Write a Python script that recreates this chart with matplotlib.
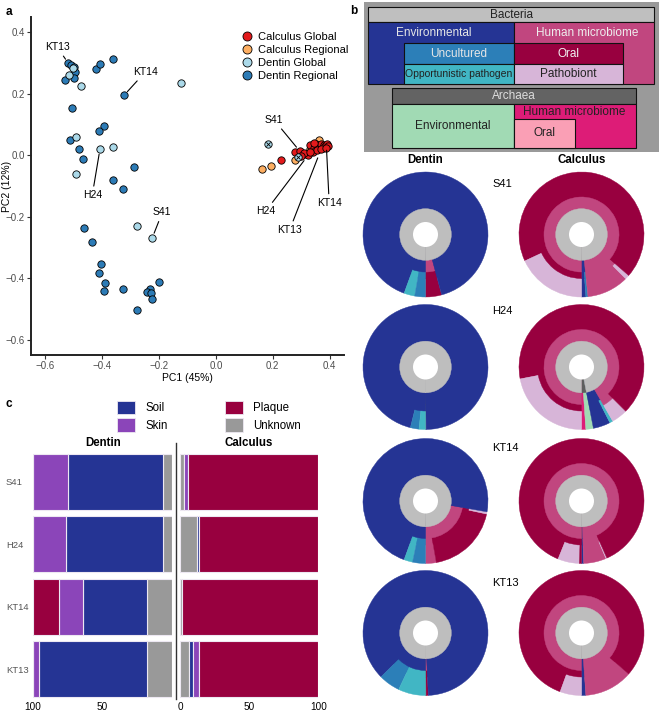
import matplotlib
matplotlib.use('Agg')
import matplotlib.pyplot as plt
from matplotlib.patches import Rectangle, Patch, Circle
from matplotlib.lines import Line2D

plt.rcParams['font.family'] = ['Liberation Sans', 'DejaVu Sans']

# ---- panel a: PCA ----
dentin_regional_x = [-0.518, -0.510, -0.498, -0.493, -0.528, -0.498, -0.422, -0.407, -0.361, -0.322,
                     -0.505, -0.394, -0.410, -0.512, -0.479, -0.466, -0.288, -0.361, -0.326, -0.463,
                     -0.434, -0.403, -0.409, -0.390, -0.391, -0.325, -0.200, -0.231, -0.243, -0.227,
                     -0.225, -0.277]
dentin_regional_y = [0.299, 0.292, 0.286, 0.270, 0.245, 0.251, 0.281, 0.295, 0.311, 0.195,
                     0.154, 0.096, 0.078, 0.049, 0.021, -0.012, -0.039, -0.081, -0.111, -0.235,
                     -0.281, -0.354, -0.382, -0.414, -0.440, -0.436, -0.411, -0.436, -0.445, -0.449,
                     -0.468, -0.503]
dentin_global_x = [-0.503, -0.514, -0.473, -0.124, -0.491, -0.407, -0.362, -0.491, -0.277, -0.223]
dentin_global_y = [0.283, 0.260, 0.224, 0.235, 0.058, 0.019, 0.027, -0.062, -0.230, -0.268]
dentin_global_flag_x = [0.183, 0.287]
dentin_global_flag_y = [0.035, -0.006]
calculus_regional_x = [0.162, 0.194, 0.279, 0.300, 0.315, 0.330, 0.350, 0.361, 0.370, 0.385]
calculus_regional_y = [-0.046, -0.036, -0.014, 0.000, 0.005, 0.020, 0.030, 0.051, 0.030, 0.028]
calculus_global_x = [0.230, 0.279, 0.294, 0.322, 0.310, 0.332, 0.345, 0.350, 0.360, 0.365, 0.370,
                     0.375, 0.380, 0.385, 0.390, 0.395, 0.340, 0.355, 0.300, 0.330, 0.345, 0.370, 0.388]
calculus_global_y = [-0.017, 0.011, 0.014, 0.000, 0.008, 0.032, 0.025, 0.035, 0.020, 0.030, 0.038,
                     0.025, 0.033, 0.030, 0.035, 0.030, 0.012, 0.018, -0.002, 0.010, 0.040, 0.020, 0.025]

# label, point, text position
pca_labels = [
    ('KT13', (-0.518, 0.299), (-0.557, 0.351)),
    ('KT14', (-0.322, 0.195), (-0.248, 0.270)),
    ('H24', (-0.407, 0.019), (-0.434, -0.130)),
    ('S41', (-0.223, -0.268), (-0.188, -0.186)),
    ('S41', (0.294, 0.014), (0.205, 0.114)),
    ('H24', (0.320, -0.005), (0.175, -0.182)),
    ('KT13', (0.364, 0.006), (0.259, -0.243)),
    ('KT14', (0.388, 0.032), (0.398, -0.155)),
]

# ---- panel b: sunbursts (degrees, kingdom, level2, level3, level4), counter-clockwise from bottom ----
dentin_s41 = [(1, 'Archaea', 'Hum', 'Oral', 'Oral'), (14, 'Bacteria', 'Hum', 'Oral', 'Oral'),
              (325, 'Bacteria', 'Env', 'Env', 'Env'), (10, 'Bacteria', 'Env', 'Opp', 'Opp'),
              (10, 'Bacteria', 'Env', 'Unc', 'Unc')]
calculus_s41 = [(1, 'Archaea', 'Env', 'Env', 'Env'), (3, 'Bacteria', 'Env', 'Env', 'Env'),
                (2, 'Bacteria', 'Env', 'Unc', 'Unc'), (39, 'Bacteria', 'Hum', 'Hum', 'Hum'),
                (4, 'Bacteria', 'Hum', 'Hum', 'Patho'), (246, 'Bacteria', 'Hum', 'Oral', 'Oral'),
                (65, 'Bacteria', 'Hum', 'Oral', 'Patho')]
dentin_h24 = [(0.6, 'Archaea', 'Archaea', 'Archaea', 'Archaea'), (345.4, 'Bacteria', 'Env', 'Env', 'Env'),
              (8, 'Bacteria', 'Env', 'Env', 'Unc'), (6, 'Bacteria', 'Env', 'Env', 'Opp')]
calculus_h24 = [(4, 'Archaea', 'AHum', 'AHum', 'AHum'), (7, 'Archaea', 'AEnv', 'AEnv', 'AEnv'),
                (16, 'Bacteria', 'Env', 'Env', 'Env'), (3, 'Bacteria', 'Env', 'Opp', 'Opp'),
                (15, 'Bacteria', 'Hum', 'Hum', 'Patho'), (236, 'Bacteria', 'Hum', 'Oral', 'Oral'),
                (79, 'Bacteria', 'Hum', 'Oral', 'Patho')]
dentin_kt14 = [(1, 'Archaea', 'Hum', 'Hum', 'Hum'), (9, 'Bacteria', 'Hum', 'Hum', 'Hum'),
               (68, 'Bacteria', 'Hum', 'Oral', 'Oral'), (2, 'Bacteria', 'Hum', 'Oral', 'Patho'),
               (260, 'Bacteria', 'Env', 'Env', 'Env'), (8, 'Bacteria', 'Env', 'Opp', 'Opp'),
               (12, 'Bacteria', 'Env', 'Unc', 'Unc')]
calculus_kt14 = [(1, 'Archaea', 'Archaea', 'Env', 'Env'), (1, 'Bacteria', 'Env', 'Env', 'Env'),
                 (21, 'Bacteria', 'Hum', 'Hum', 'Hum'), (1, 'Bacteria', 'Hum', 'Hum', 'Patho'),
                 (314, 'Bacteria', 'Hum', 'Oral', 'Oral'), (20, 'Bacteria', 'Hum', 'Oral', 'Patho'),
                 (2, 'Bacteria', 'Hum', 'Oral', 'Oral')]
dentin_kt13 = [(0.6, 'Archaea', 'Archaea', 'Archaea', 'Archaea'), (2, 'Bacteria', 'Hum', 'Oral', 'Oral'),
               (312, 'Bacteria', 'Env', 'Env', 'Env'), (20, 'Bacteria', 'Env', 'Unc', 'Unc'),
               (25.4, 'Bacteria', 'Env', 'Opp', 'Opp')]
calculus_kt13 = [(1, 'Archaea', 'Env', 'Env', 'Env'), (3, 'Bacteria', 'Env', 'Env', 'Env'),
                 (45, 'Bacteria', 'Hum', 'Hum', 'Hum'), (291, 'Bacteria', 'Hum', 'Oral', 'Oral'),
                 (20, 'Bacteria', 'Hum', 'Oral', 'Patho')]

samples = ['S41', 'H24', 'KT14', 'KT13']
dentin_donuts = [dentin_s41, dentin_h24, dentin_kt14, dentin_kt13]
calculus_donuts = [calculus_s41, calculus_h24, calculus_kt14, calculus_kt13]

tax_colors = {'Bacteria': '#bebebe', 'Archaea': '#5e5e5e', 'Env': '#253494', 'Hum': '#c1467f',
              'Unc': '#2c7fb8', 'Opp': '#41b6c4', 'Oral': '#98003f', 'Patho': '#d7b5d8',
              'AEnv': '#a1dab4', 'AHum': '#dd1c77', 'AOral': '#fa9fb5'}

# ---- panel c: source proportions ----
sources = ['Unknown', 'Soil', 'Skin', 'Plaque']
source_colors = {'Soil': '#253494', 'Skin': '#8b45b9', 'Plaque': '#98003f', 'Unknown': '#999999'}
dentin_unknown = [6.5, 6.5, 18.0, 18.0]
dentin_soil = [67.8, 69.8, 46.0, 77.2]
dentin_skin = [25.7, 23.7, 16.8, 4.8]
dentin_plaque = [0.0, 0.0, 19.2, 0.0]
calculus_unknown = [2.9, 12.5, 1.2, 6.3]
calculus_soil = [0.0, 1.2, 0.0, 3.4]
calculus_skin = [2.7, 0.0, 0.0, 4.1]
calculus_plaque = [94.4, 86.3, 98.8, 86.2]

W, H = 660, 711
fig = plt.figure(figsize=(W / 100, H / 100), dpi=100)


def px_axes(x0, y0, x1, y1):
    return fig.add_axes([x0 / W, 1 - y1 / H, (x1 - x0) / W, (y1 - y0) / H])


def fig_text(x, y, s, **kw):
    fig.text(x / W, 1 - y / H, s, **kw)


# ================= a =================
ax = px_axes(31, 17, 344, 355)
pt = dict(s=28, edgecolors='black', linewidths=0.6, zorder=3)
ax.scatter(dentin_regional_x, dentin_regional_y, c='#2c7bb6', **pt)
ax.scatter(dentin_global_x, dentin_global_y, c='#abd9e9', **pt)
ax.scatter(calculus_regional_x, calculus_regional_y, c='#fdae61', **pt)
ax.scatter(calculus_global_x, calculus_global_y, c='#e31a1c', **pt)
ax.scatter(dentin_global_flag_x, dentin_global_flag_y, c='#abd9e9', **pt)
ax.scatter(dentin_global_flag_x, dentin_global_flag_y, marker='x', s=9, c='black', linewidths=0.6, zorder=4)

for name, xy, txt in pca_labels:
    ax.annotate(name, xy=xy, xytext=txt, ha='center', va='center', fontsize=7.5,
                arrowprops=dict(arrowstyle='-', color='black', lw=0.8, shrinkA=1, shrinkB=3.5), zorder=5)

ax.set_xlim(-0.649, 0.45)
ax.set_ylim(-0.649, 0.449)
ax.set_xticks([-0.6, -0.4, -0.2, 0.0, 0.2, 0.4], ['−0.6', '−0.4', '−0.2', '0.0', '0.2', '0.4'])
ax.set_yticks([-0.6, -0.4, -0.2, 0.0, 0.2, 0.4], ['−0.6', '−0.4', '−0.2', '0.0', '0.2', '0.4'])
ax.tick_params(labelsize=7, labelcolor='#4d4d4d', length=3, width=0.8, color='#333333', pad=1.5)
for side in ['top', 'right']:
    ax.spines[side].set_visible(False)
for side in ['left', 'bottom']:
    ax.spines[side].set_linewidth(1.4)
    ax.spines[side].set_color('#222222')
ax.set_xlabel('PC1 (45%)', fontsize=7.5, labelpad=1)
ax.set_ylabel('PC2 (12%)', fontsize=7.5)
ax.yaxis.set_label_coords((12.5 - 31) / 313, 0.5)

leg_handles = [Line2D([], [], ls='', marker='o', ms=6.5, mfc=c, mec='black', mew=0.6)
               for c in ['#e31a1c', '#fdae61', '#abd9e9', '#2c7bb6']]
ax.legend(leg_handles, ['Calculus Global', 'Calculus Regional', 'Dentin Global', 'Dentin Regional'],
          loc='upper left', bbox_to_anchor=(236 / W, 1 - 26.5 / H), bbox_transform=fig.transFigure,
          frameon=False, fontsize=8, handlelength=1, handletextpad=0.45, labelspacing=0.27, borderpad=0)

# ================= b: key =================
axb = px_axes(364, 2, 659, 152)
axb.set_xlim(0, 295)
axb.set_ylim(150, 0)
axb.axis('off')
key_boxes = [
    # x0, y0, x1, y1, colour, label, text colour, font size, text position
    (0, 0, 295, 150, '#9a9a9a', None, None, 0, None),
    (4.3, 5.3, 290, 19.7, '#bfbfbf', 'Bacteria', '#222222', 8.5, None),
    (4.3, 19.7, 150, 82.3, '#253494', 'Environmental', '#e6e6e6', 8.5, (69.3, 31.3)),
    (150, 19.7, 290, 82.3, '#c1467f', 'Human microbiome', '#eeeeee', 8.5, (223.3, 31.3)),
    (40, 41.3, 150, 62.3, '#2c7fb8', 'Uncultured', '#e6e6e6', 8.5, None),
    (40, 62.3, 150, 82.3, '#41b6c4', 'Opportunistic pathogen', '#222222', 7.5, None),
    (150, 41.3, 259.3, 62.3, '#98003f', 'Oral', '#f2f2f2', 8.5, None),
    (150, 62.3, 259.3, 82.3, '#d7b5d8', 'Pathobiont', '#222222', 8.5, None),
    (27.7, 86.3, 272, 102, '#636363', 'Archaea', '#dddddd', 8.5, None),
    (27.7, 102, 150, 145.7, '#a1dab4', 'Environmental', '#222222', 8.5, None),
    (150, 102, 272, 145.7, '#dd1c77', 'Human microbiome', '#222222', 8.5, (210.3, 110.3)),
    (150, 117, 211, 145.7, '#fa9fb5', 'Oral', '#222222', 8.5, None),
]
for x0, y0, x1, y1, col, lab, tcol, fs, tpos in key_boxes:
    lw = 0 if lab is None else 0.8
    axb.add_patch(Rectangle((x0, y0), x1 - x0, y1 - y0, facecolor=col, edgecolor='#111111', lw=lw))
    if lab is not None:
        tx, ty = tpos if tpos else ((x0 + x1) / 2, (y0 + y1) / 2)
        axb.text(tx, ty, lab, ha='center', va='center', fontsize=fs, color=tcol)

# ================= b: sunbursts =================
ring_outer = [0.413, 0.6, 0.704, 1.0]   # kingdom, level2, level3, level4
hole = 0.2
col_x = [425.5, 581.5]
row_y = [234.5, 367, 501, 633]
for ci, donuts in enumerate([dentin_donuts, calculus_donuts]):
    for ri, leaves in enumerate(donuts):
        cx, cy = col_x[ci], row_y[ri]
        axd = px_axes(cx - 63, cy - 63, cx + 63, cy + 63)
        # outermost level first, each one a full pie so rings have no seams between them
        for lev in [3, 2, 1, 0]:
            sizes, cols = [], []
            for leaf in leaves:
                c = tax_colors[leaf[lev + 1]]
                if cols and cols[-1] == c:
                    sizes[-1] += leaf[0]
                else:
                    sizes.append(leaf[0])
                    cols.append(c)
            wedges, _ = axd.pie(sizes, colors=cols, radius=ring_outer[lev], startangle=270,
                                counterclock=True, normalize=True, wedgeprops=dict(linewidth=0.3))
            for w in wedges:
                w.set_edgecolor(w.get_facecolor())
        axd.add_patch(Circle((0, 0), hole, facecolor='white', edgecolor='none', zorder=5))
        axd.set_xlim(-1.008, 1.008)
        axd.set_ylim(-1.008, 1.008)
        axd.set_aspect('equal')
        axd.axis('off')

fig_text(425.5, 160, 'Dentin', ha='center', va='center', fontsize=8.3, fontweight='bold')
fig_text(581.5, 160, 'Calculus', ha='center', va='center', fontsize=8.3, fontweight='bold')
for name, y in zip(samples, [184, 311, 447.7, 582.7]):
    fig_text(492.3, y, name, ha='left', va='center', fontsize=8)

# ================= c =================
axL = px_axes(32.7, 450.5, 171.7, 700.5)
axR = px_axes(180, 450.5, 318.3, 700.5)
ypos = list(range(len(samples)))
for axc, parts in [(axL, [dentin_unknown, dentin_soil, dentin_skin, dentin_plaque]),
                   (axR, [calculus_unknown, calculus_soil, calculus_skin, calculus_plaque])]:
    left = [0.0] * len(samples)
    for src, vals in zip(sources, parts):
        axc.barh(ypos, vals, left=left, height=0.89, color=source_colors[src],
                 edgecolor='#ede8f2', linewidth=0.8)
        left = [a + b for a, b in zip(left, vals)]
    axc.set_ylim(3.5, -0.5)
    for s in axc.spines.values():
        s.set_visible(False)
    axc.tick_params(length=0, labelsize=7.2, pad=1)

axL.set_xlim(100, 0)
axR.set_xlim(0, 100)
axL.set_xticks([100, 50, 0], ['100', '50', ''])
axR.set_xticks([0, 50, 100], ['0', '50', '100'])
axL.set_yticks(ypos, samples)
axL.tick_params(axis='y', labelsize=6.8, labelcolor='#555555', pad=(32.7 - 6) * 0.72)
for lab in axL.get_yticklabels():
    lab.set_horizontalalignment('left')
axR.set_yticks([])

fig.add_artist(Line2D([175.7 / W, 175.7 / W], [1 - 443 / H, 1 - 699 / H], transform=fig.transFigure,
                      color='#333333', lw=1))
fig_text(102.7, 442.7, 'Dentin', ha='center', va='center', fontsize=8.3, fontweight='bold')
fig_text(248.3, 442.7, 'Calculus', ha='center', va='center', fontsize=8.3, fontweight='bold')

legend_order = ['Soil', 'Skin', 'Plaque', 'Unknown']
fig.legend([Patch(facecolor=source_colors[s], edgecolor='#ede8f2', lw=0.6) for s in legend_order], legend_order,
           ncol=2, loc='upper left', bbox_to_anchor=(111.7 / W, 1 - 395 / H), frameon=False, fontsize=8.3,
           handlelength=1.55, handleheight=1.4, handletextpad=0.85, columnspacing=5.0,
           labelspacing=0.35, borderpad=0)

# panel letters
fig_text(9, 12, 'a', ha='center', va='center', fontsize=8.5, fontweight='bold')
fig_text(353.3, 11, 'b', ha='center', va='center', fontsize=8.5, fontweight='bold')
fig_text(9, 403.7, 'c', ha='center', va='center', fontsize=8.5, fontweight='bold')

fig.savefig('out.png', dpi=100)
